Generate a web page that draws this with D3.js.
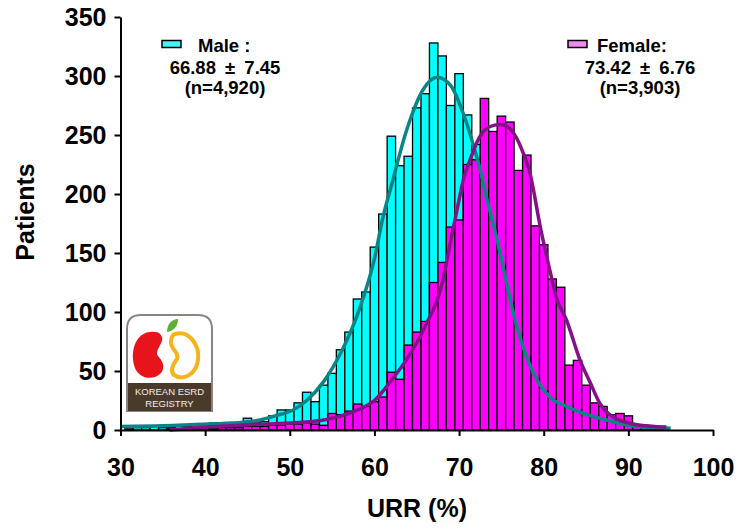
<!DOCTYPE html>
<html>
<head>
<meta charset="utf-8">
<script src="https://cdn.jsdelivr.net/npm/d3@7/dist/d3.min.js"></script>
<style>
  body { margin: 0; background: #fff; }
  svg text { font-family: "Liberation Sans", Arial, sans-serif; font-weight: bold; fill: #000; }
</style>
</head>
<body>
<svg id="chart" width="739" height="529"></svg>
<script>
// URR bins (bin centres, %)
var urrBins = [31, 32, 33, 34, 35, 36, 37, 38, 39, 40, 41, 42, 43, 44, 45, 46, 47, 48, 49, 50,
    51, 52, 53, 54, 55, 56, 57, 58, 59, 60, 61, 62, 63, 64, 65, 66, 67, 68, 69, 70,
    71, 72, 73, 74, 75, 76, 77, 78, 79, 80, 81, 82, 83, 84, 85, 86, 87, 88, 89, 90,
    91, 92, 93, 94, 95];

// patients per bin
var maleCounts = [1, 2, 2, 3, 2, 2, 3, 3, 4, 3, 6, 4, 4, 5, 10, 6, 7, 12, 17, 17,
    23, 32, 24, 38, 48, 68, 83, 111, 117, 155, 183, 249, 224, 232, 273, 285, 328, 317, 275, 302,
    267, 242, 215, 175, 140, 110, 82, 62, 45, 35, 26, 20, 15, 12, 10, 8, 6, 5, 4, 3,
    2, 2, 1, 1, 0];
var femaleCounts = [0, 0, 0, 0, 0, 1, 1, 1, 1, 2, 1, 2, 2, 2, 3, 3, 3, 4, 4, 5,
    5, 6, 5, 4, 14, 13, 16, 22, 20, 24, 28, 49, 43, 72, 83, 92, 125, 142, 172, 178,
    225, 229, 281, 253, 266, 261, 220, 233, 173, 157, 128, 121, 55, 59, 38, 23, 20, 13, 14, 12,
    4, 3, 2, 1, 0];

// fitted curves: [URR, patients]
var maleCurve = [[30, 3], [35, 3.5], [40.5, 5], [44.5, 6.5], [46.5, 8.5], [48.5, 12.5], [50.4, 17],
    [52, 25], [54, 41], [56, 65], [58, 98], [60, 145], [61, 180], [62, 207], [63.8, 254],
    [65.8, 289], [67.4, 299], [69, 292], [70.5, 268], [71.5, 246], [72.4, 223], [73.3, 195],
    [74.3, 167], [75.3, 135], [76.3, 102], [77.4, 74], [78.8, 48], [80.7, 28], [82.7, 20],
    [84.7, 14], [86.6, 10], [91, 3], [95, 1.5]];
var femaleCurve = [[35.8, 0], [40.6, 2.8], [46.5, 4.8], [52.4, 7], [54, 8.5], [58, 17], [60, 25],
    [62, 42], [64, 62], [66, 88], [68, 124], [69, 160], [70, 195], [70.5, 212], [71.3, 229],
    [72.4, 248], [73.6, 257], [74.8, 259], [75.9, 256], [77.1, 243], [78.4, 217], [79.6, 172],
    [80.8, 133], [81.5, 112], [82.7, 93], [84.3, 59], [85.5, 40], [86.6, 23], [88.2, 11],
    [91, 4.5], [94.5, 2.5]];

var xTicks = [30, 40, 50, 60, 70, 80, 90, 100];
var yTicks = [0, 50, 100, 150, 200, 250, 300, 350];

var legendMale = ["Male :", "66.88 \u00b1 7.45", "(n=4,920)"];
var legendFemale = ["Female:", "73.42 \u00b1 6.76", "(n=3,903)"];

var svg = d3.select("#chart");

var xScale = d3.scaleLinear().domain([30, 100]).range([120.5, 713]);
var yScale = d3.scaleLinear().domain([0, 350]).range([430, 17]);
var binW = xScale(1) - xScale(0);

// logo (Korean ESRD registry)
var logo = svg.append("g").attr("transform", "translate(127,315)");
logo.append("path")
    .attr("d", "M0,96 L0,14 Q0,0 14,0 L71,0 Q85,0 85,14 L85,96 Z")
    .attr("fill", "#fff").attr("stroke", "#8a8580").attr("stroke-width", 2);
logo.append("rect").attr("x", 1).attr("y", 68).attr("width", 83).attr("height", 28).attr("fill", "#4a3a2c");
logo.append("path")
    .attr("d", "M28,17 C10,15 3,34 7,50 C10,63 25,67 34,58 C39,52 35,45 31,41 C27,36 37,28 35,22 C33,18 31,17 28,17 Z")
    .attr("fill", "#e8141c");
logo.append("path")
    .attr("d", "M48,19 C62,15 73,30 71,45 C69,60 56,66 47,60 C42,55 47,48 50,44 C53,39 43,33 44,27 C44,22 45,20 48,19 Z")
    .attr("fill", "none").attr("stroke", "#f4b41a").attr("stroke-width", 4);
logo.append("path")
    .attr("d", "M40,17 C40,9 45,4 51,4 C51,11 47,16 40,17 Z")
    .attr("fill", "#5cb03a");
logo.append("text").attr("x", 42.5).attr("y", 80).attr("text-anchor", "middle")
    .style("font-size", "9.5px").style("font-weight", "normal").style("fill", "#f2ede6").text("KOREAN ESRD");
logo.append("text").attr("x", 42.5).attr("y", 92).attr("text-anchor", "middle")
    .style("font-size", "9.5px").style("font-weight", "normal").style("fill", "#f2ede6").text("REGISTRY");

function drawBars(counts, colour) {
    svg.append("g").selectAll("rect")
        .data(urrBins.map(function (b, i) { return { bin: b, count: counts[i] }; })
            .filter(function (d) { return d.count > 0; }))
        .enter().append("rect")
        .attr("x", function (d) { return xScale(d.bin - 0.5); })
        .attr("y", function (d) { return yScale(d.count); })
        .attr("width", binW)
        .attr("height", function (d) { return yScale(0) - yScale(d.count); })
        .attr("fill", colour)
        .attr("stroke", "#000")
        .attr("stroke-width", 1.3);
}
drawBars(maleCounts, "#00ffff");
drawBars(femaleCounts, "#ff00ff");

var line = d3.line()
    .x(function (d) { return xScale(d[0]); })
    .y(function (d) { return yScale(d[1]); })
    .curve(d3.curveMonotoneX);

svg.append("path").datum(maleCurve).attr("d", line)
    .attr("fill", "none").attr("stroke", "#0a8585").attr("stroke-width", 3.5);
svg.append("path").datum(femaleCurve).attr("d", line)
    .attr("fill", "none").attr("stroke", "#85108a").attr("stroke-width", 3.5);

// axes
var yAxis = svg.append("g")
    .attr("transform", "translate(" + xScale(30) + ",0)")
    .call(d3.axisLeft(yScale).tickValues(yTicks).tickSize(6).tickSizeOuter(0).tickPadding(8));
var xAxis = svg.append("g")
    .attr("transform", "translate(0," + yScale(0) + ")")
    .call(d3.axisBottom(xScale).tickValues(xTicks).tickSize(6).tickSizeOuter(0).tickPadding(22));
[yAxis, xAxis].forEach(function (ax) {
    ax.select(".domain").attr("stroke-width", 2);
    ax.selectAll(".tick line").attr("stroke-width", 2);
    ax.selectAll("text").style("font-size", "25px").style("font-family", "'Liberation Sans', Arial, sans-serif").style("font-weight", "bold");
});

svg.append("text")
    .attr("transform", "translate(34,212) rotate(-90)")
    .attr("text-anchor", "middle")
    .style("font-size", "25px")
    .text("Patients");

svg.append("text")
    .attr("x", 417).attr("y", 517)
    .attr("text-anchor", "middle")
    .style("font-size", "25px")
    .text("URR (%)");

// legends
function drawLegend(lines, boxX, textX, centreX, colour) {
    svg.append("rect")
        .attr("x", boxX).attr("y", 40.5).attr("width", 19).attr("height", 7)
        .attr("fill", colour).attr("stroke", "#000").attr("stroke-width", 1.5);
    svg.append("text").attr("x", textX).attr("y", 51.5)
        .style("font-size", "18.5px").text(lines[0]);
    svg.append("text").attr("x", centreX).attr("y", 73.5).attr("text-anchor", "middle")
        .style("font-size", "18.5px").style("word-spacing", "4px").text(lines[1]);
    svg.append("text").attr("x", centreX).attr("y", 94).attr("text-anchor", "middle")
        .style("font-size", "18.5px").text(lines[2]);
}
drawLegend(legendMale, 162, 198, 225, "#44f4f8");
drawLegend(legendFemale, 568, 597, 640, "#f08af0");
</script>
</body>
</html>
